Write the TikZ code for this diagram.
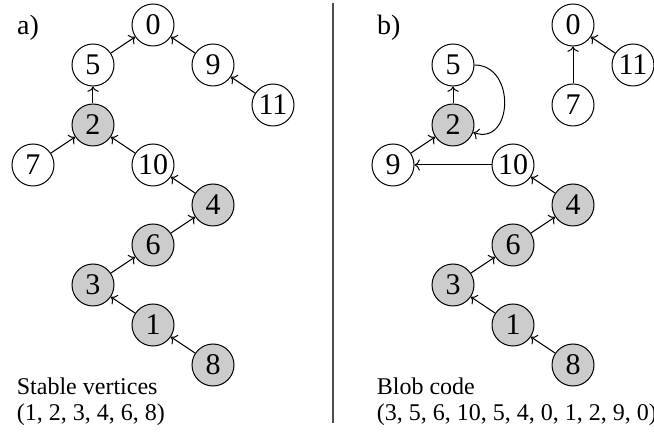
\documentclass[tikz,border=0pt]{standalone}
\usepackage{fontspec}
\setmainfont{Liberation Serif}
\usetikzlibrary{arrows.meta,positioning}

\begin{document}
\begin{tikzpicture}[x=30pt,y=20pt,
    vtx/.style={draw,circle,line width=0.5pt,minimum size=21pt,inner sep=0pt,
                font=\fontsize{15}{15}\selectfont},
    stable/.style={vtx,fill=black!20},
    arc/.style={->,line width=0.5pt},
    lbl/.style={anchor=base west,inner sep=0pt,font=\fontsize{12}{13}\selectfont}]
  \useasboundingbox (-0.55,0.625) rectangle (10.35,-10.325);

  %% a) tree with its stable vertices
  \node[lbl,font=\fontsize{14}{14}\selectfont] (tagA) at (-0.27,-0.25) {a)};
  \node[vtx]    (a0)  at (2,0)    {0};
  \node[vtx]    (a5)  at (1,-1)   {5};
  \node[vtx]    (a9)  at (3,-1)   {9};
  \node[vtx]    (a11) at (4,-2)   {11};
  \node[stable] (a2)  at (1,-2.5) {2};
  \node[vtx]    (a7)  at (0,-3.5) {7};
  \node[vtx]    (a10) at (2,-3.5) {10};
  \node[stable] (a4)  at (3,-4.5) {4};
  \node[stable] (a6)  at (2,-5.5) {6};
  \node[stable] (a3)  at (1,-6.5) {3};
  \node[stable] (a1)  at (2,-7.5) {1};
  \node[stable] (a8)  at (3,-8.5) {8};
  \foreach \s/\t in {a5/a0,a9/a0,a11/a9,a2/a5,a7/a2,a10/a2,
                     a4/a10,a6/a4,a3/a6,a1/a3,a8/a1}
    \draw[arc] (\s) -- (\t);
  \node[lbl] (capA1) at (-0.275,-9.25) {Stable vertices};
  \node[lbl] (capA2) at (-0.275,-9.9)  {(1, 2, 3, 4, 6, 8)};

  %% separator
  \draw[black!70,line width=0.75pt] (5,0.55) -- (5,-9.95);

  %% b) graph after the transformation
  \node[lbl,font=\fontsize{14}{14}\selectfont] (tagB) at (5.73,-0.25) {b)};
  \node[vtx]    (b0)  at (9,0)    {0};
  \node[vtx]    (b11) at (10,-1)  {11};
  \node[vtx]    (b7)  at (9,-2)   {7};
  \node[vtx]    (b5)  at (7,-1)   {5};
  \node[stable] (b2)  at (7,-2.5) {2};
  \node[vtx]    (b9)  at (6,-3.5) {9};
  \node[vtx]    (b10) at (8,-3.5) {10};
  \node[stable] (b4)  at (9,-4.5) {4};
  \node[stable] (b6)  at (8,-5.5) {6};
  \node[stable] (b3)  at (7,-6.5) {3};
  \node[stable] (b1)  at (8,-7.5) {1};
  \node[stable] (b8)  at (9,-8.5) {8};
  \foreach \s/\t in {b7/b0,b11/b0,b2/b5,b9/b2,b10/b9,
                     b4/b10,b6/b4,b3/b6,b1/b3,b8/b1}
    \draw[arc] (\s) -- (\t);
  \draw[arc] (b5) to[out=0,in=-20,looseness=1.6] (b2);
  \node[lbl] (capB1) at (5.725,-9.25) {Blob code};
  \node[lbl] (capB2) at (5.725,-9.9)  {(3, 5, 6, 10, 5, 4, 0, 1, 2, 9, 0)};
\end{tikzpicture}
\end{document}
